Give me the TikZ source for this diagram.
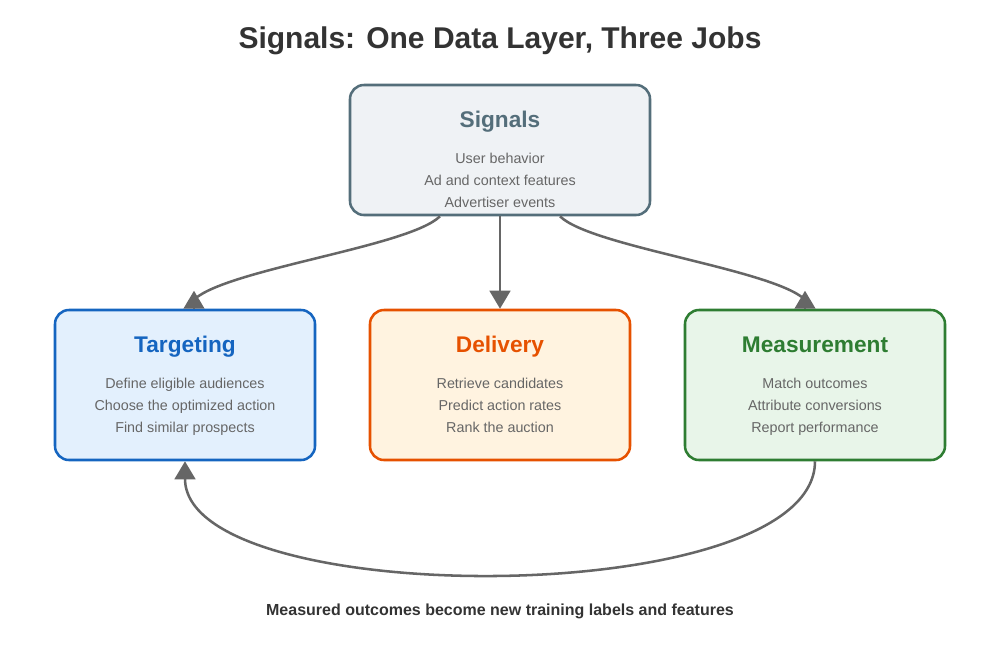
\documentclass[tikz,border=0pt]{standalone}
\usepackage{fontspec}
\setmainfont{Liberation Sans}
\usetikzlibrary{arrows.meta, calc, positioning}
\definecolor{inkdark}{HTML}{333333}
\definecolor{inkbody}{HTML}{666666}
\definecolor{flowgray}{HTML}{666666}
\definecolor{sigline}{HTML}{546E7A}
\definecolor{sigfill}{HTML}{EFF2F5}
\definecolor{tgtline}{HTML}{1565C0}
\definecolor{tgtfill}{HTML}{E3F0FD}
\definecolor{dlvline}{HTML}{E65100}
\definecolor{dlvfill}{HTML}{FFF3E0}
\definecolor{msrline}{HTML}{2E7D32}
\definecolor{msrfill}{HTML}{E8F5E9}
\tikzset{
  card/.style={rounded corners=10.5pt, line width=1.9pt, minimum width=195pt, minimum height=112.5pt},
  cardtitle/.style={font=\fontsize{17}{20}\selectfont\bfseries, inner sep=0pt, anchor=base},
  cardbody/.style={font=\fontsize{10.75}{16.5}\selectfont, text=inkbody, align=center, inner sep=0pt},
  flow/.style={line width=1.9pt, color=flowgray, -{Triangle[length=13.5pt, width=15.5pt]}},
  flowline/.style={line width=1.9pt, color=flowgray},
}

\begin{document}
\begin{tikzpicture}[x=0.75pt, y=-0.75pt]
\useasboundingbox (0,0) rectangle (1000,650);
\node[font=\fontsize{22.5}{26}\selectfont\bfseries, text=inkdark, anchor=base] (title) at (500,48) {Signals: One Data Layer, Three Jobs};

% data layer
\node[card, minimum width=225pt, minimum height=97.5pt, fill=sigfill, draw=sigline] (sig) at (500,150) {};
\node[cardtitle, text=sigline] (sigT) at (500,127) {Signals};
\node[cardbody] (sigB) at (500,181) {\strut User behavior\\Ad and context features\\Advertiser events\strut};

% three jobs
\node[card, fill=tgtfill, draw=tgtline] (tgt) at (185,385) {};
\node[cardtitle, text=tgtline] (tgtT) at (185,352) {Targeting};
\node[cardbody] (tgtB) at (185,406) {\strut Define eligible audiences\\Choose the optimized action\\Find similar prospects\strut};

\node[card, fill=dlvfill, draw=dlvline] (dlv) at (500,385) {};
\node[cardtitle, text=dlvline] (dlvT) at (500,352) {Delivery};
\node[cardbody] (dlvB) at (500,406) {\strut Retrieve candidates\\Predict action rates\\Rank the auction\strut};

\node[card, fill=msrfill, draw=msrline] (msr) at (815,385) {};
\node[cardtitle, text=msrline] (msrT) at (815,352) {Measurement};
\node[cardbody] (msrB) at (815,406) {\strut Match outcomes\\Attribute conversions\\Report performance\strut};

% connectors
\coordinate (tgtIn) at ($(tgt.north)+(9,0)$);
\coordinate (msrIn) at ($(msr.north)+(-10,0)$);
\draw[flowline] ($(sig.south)+(-60,0)$) .. controls +(-30,30) and +(35,-30) .. ($(tgtIn)+(1,-10)$);
\draw[flow] (tgtIn) -- ++(0,-18);
\draw[flow] (sig.south) -- (dlv.north);
\draw[flowline] ($(sig.south)+(60,0)$) .. controls +(30,30) and +(-35,-30) .. ($(msrIn)+(-1,-10)$);
\draw[flow] (msrIn) -- ++(0,-18);
\draw[flow] (msr.south) .. controls +(0,150) and +(0,150) .. (tgt.south);

\node[font=\fontsize{12}{14}\selectfont\bfseries, text=inkdark, anchor=base] (note) at (500,615) {Measured outcomes become new training labels and features};
\end{tikzpicture}
\end{document}
